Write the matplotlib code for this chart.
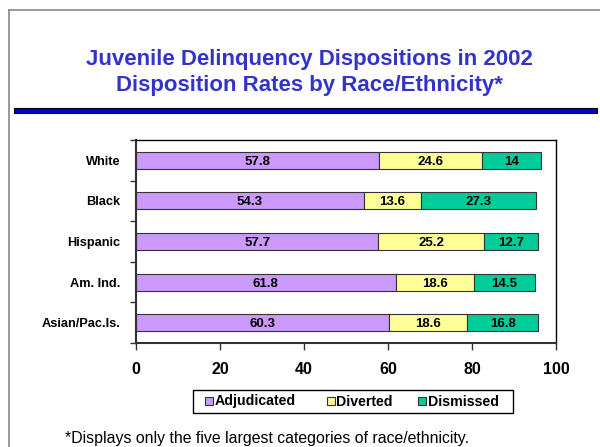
import matplotlib
matplotlib.use("Agg")
import matplotlib.pyplot as plt
from matplotlib.patches import Rectangle
from matplotlib.lines import Line2D
import numpy as np

categories = ["White", "Black", "Hispanic", "Am. Ind.", "Asian/Pac.Is."]
adjudicated = [57.8, 54.3, 57.7, 61.8, 60.3]
diverted = [24.6, 13.6, 25.2, 18.6, 18.6]
dismissed = [14, 27.3, 12.7, 14.5, 16.8]
series_names = ["Adjudicated", "Diverted", "Dismissed"]
colors = ["#CC99FF", "#FFFF99", "#00CC99"]
xticks = [0, 20, 40, 60, 80, 100]

plt.rcParams['font.family'] = ['Liberation Sans', 'DejaVu Sans']

W, H = 600, 447
fig = plt.figure(figsize=(W / 100, H / 100), dpi=100)

def fx(px):
    return px / W

def fy(py):
    return 1 - py / H

# outer border
fig.add_artist(Line2D([fx(9), fx(9)], [0, fy(10)], transform=fig.transFigure, color="#888888", lw=1.2))
fig.add_artist(Line2D([fx(9), 1], [fy(10), fy(10)], transform=fig.transFigure, color="#888888", lw=1.2))

# title
fig.text(fx(309), fy(60), "Juvenile Delinquency Dispositions in 2002", ha="center", va="center",
         fontsize=16, fontweight="bold", color="#3333CC")
fig.text(fx(309), fy(86), "Disposition Rates by Race/Ethnicity*", ha="center", va="center",
         fontsize=16, fontweight="bold", color="#3333CC")

# blue rule
fig.add_artist(Rectangle((fx(14), fy(113)), (597 - 14) / W, 5 / H, transform=fig.transFigure,
                         facecolor="#0000CC", edgecolor="black", lw=0.8))

ax = fig.add_axes([fx(136), fy(343), (556 - 136) / W, (343 - 140) / H])

y = np.arange(len(categories))
left = np.zeros(len(categories))
data = [adjudicated, diverted, dismissed]
for vals, name, c in zip(data, series_names, colors):
    vals = np.array(vals, dtype=float)
    ax.barh(y, vals, left=left, height=0.42, color=c, edgecolor="#333333", linewidth=0.8, label=name)
    for yi, l, v in zip(y, left, vals):
        ax.text(l + v / 2, yi, f"{v:g}", ha="center", va="center_baseline", fontsize=9.5, fontweight="bold")
    left += vals

ax.set_xlim(0, 100)
ax.set_ylim(len(categories) - 0.5, -0.5)
ax.set_xticks(xticks)
ax.set_xticklabels([str(t) for t in xticks], fontsize=11.5, fontweight="bold")
ax.set_yticks(y)
ax.set_yticklabels(categories, fontsize=9.2, fontweight="bold", va="center_baseline")
ax.set_yticks(np.arange(-0.5, len(categories), 1), minor=True)
ax.tick_params(axis="y", which="major", length=0, pad=11)
ax.tick_params(axis="y", which="minor", length=4, width=1, direction="out", color="#333333")
ax.tick_params(axis="x", which="major", length=5, width=1, direction="out", pad=9, color="#333333")
for side in ["left", "bottom"]:
    ax.spines[side].set_linewidth(1.5)
    ax.spines[side].set_color("#333333")
for side in ["top", "right"]:
    ax.spines[side].set_linewidth(1.0)
    ax.spines[side].set_color("black")

# legend (drawn manually so text baselines line up)
fig.add_artist(Rectangle((fx(193), fy(413)), (513 - 193) / W, (413 - 390) / H, transform=fig.transFigure,
                         facecolor="white", edgecolor="black", lw=1.0))
marker_x = [205, 327, 418]
text_x = [215, 336, 428]
for mx, tx, name, c in zip(marker_x, text_x, series_names, colors):
    fig.add_artist(Rectangle((fx(mx), fy(405)), 8 / W, 8 / H, transform=fig.transFigure,
                             facecolor=c, edgecolor="#333333", lw=0.8))
    fig.text(fx(tx), fy(405.5), name, ha="left", va="baseline", fontsize=10.2, fontweight="bold")

fig.text(fx(65), fy(438), "*Displays only the five largest categories of race/ethnicity.",
         ha="left", va="center", fontsize=11.4)

fig.savefig("out.png", dpi=100)
